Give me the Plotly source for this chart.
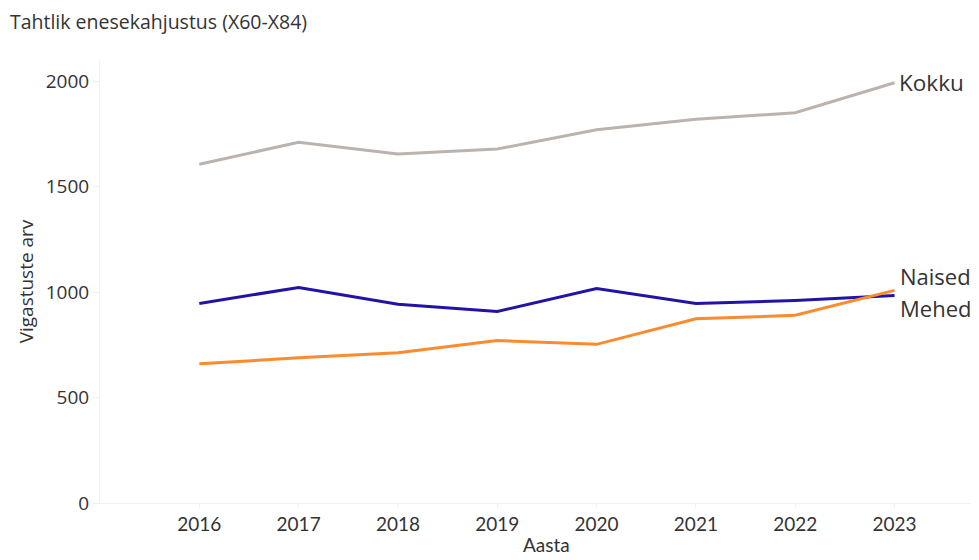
import plotly.graph_objects as go

years = [2016, 2017, 2018, 2019, 2020, 2021, 2022, 2023]
kokku = [1606, 1710, 1654, 1678, 1769, 1819, 1850, 1992]
mehed = [946, 1022, 942, 908, 1017, 946, 960, 984]
naised = [660, 688, 712, 770, 752, 873, 890, 1008]

series = [
    ("Kokku", kokku, "#bbb3ae"),
    ("Mehed", mehed, "#2312a6"),
    ("Naised", naised, "#fb8b2c"),
]

TXT = "#333333"
FONT = "Open Sans"

fig = go.Figure()
for name, vals, color in series:
    fig.add_trace(go.Scatter(x=years, y=vals, mode="lines", name=name,
                             line=dict(color=color, width=3), showlegend=False))

fig.add_annotation(x=years[-1], y=kokku[-1], text="Kokku", showarrow=False,
                   xanchor="left", xshift=2, yshift=0,
                   font=dict(size=22.5, color=TXT, family=FONT))
fig.add_annotation(x=years[-1], y=naised[-1], text="Naised", showarrow=False,
                   xanchor="right", xshift=78, yshift=14,
                   font=dict(size=22, color=TXT, family=FONT))
fig.add_annotation(x=years[-1], y=mehed[-1], text="Mehed", showarrow=False,
                   xanchor="right", xshift=78, yshift=-13,
                   font=dict(size=22, color=TXT, family=FONT))
# x-axis title, just below the tick labels
fig.add_annotation(x=(years[0] + years[-1]) / 2, xref="x", y=0, yref="paper",
                   text="Aasta", showarrow=False, xanchor="center",
                   yanchor="top", yshift=-28,
                   font=dict(size=19, color=TXT, family="Lato"))

fig.update_layout(
    width=963, height=544,
    margin=dict(l=92, r=0, t=52, b=49),
    paper_bgcolor="white", plot_bgcolor="white",
    title=dict(text="Tahtlik enesekahjustus (X60-X84)", x=0.002, xanchor="left",
               y=0.974, yanchor="middle",
               font=dict(size=19.5, color=TXT, family=FONT)),
    xaxis=dict(range=[2015, 2023.77], tickmode="array", tickvals=years,
               ticktext=[str(y) for y in years], showgrid=False,
               showline=True, linecolor="#f0f0f0", linewidth=1,
               ticks="outside", tickcolor="#f0f0f0", ticklen=4,
               tickfont=dict(size=19, color=TXT, family="Lato"),
               automargin=False, zeroline=False),
    yaxis=dict(range=[0, 2100], tickvals=[0, 500, 1000, 1500, 2000],
               showgrid=False, showline=True, linecolor="#f0f0f0", linewidth=1,
               ticks="outside", tickcolor="#f0f0f0", ticklen=6,
               tickfont=dict(size=19, color=TXT, family=FONT),
               title=dict(text="Vigastuste arv", standoff=7,
                          font=dict(size=19, color=TXT, family=FONT)),
               automargin=False, zeroline=False),
)

fig.write_html("out.html")
